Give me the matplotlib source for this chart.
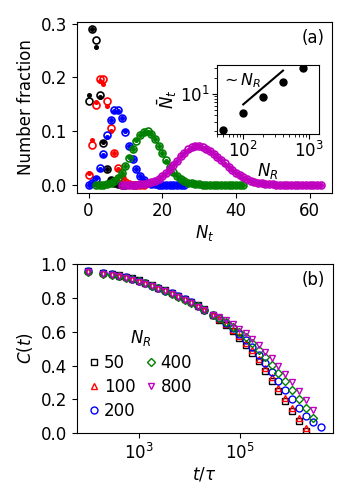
import numpy as np
import matplotlib
matplotlib.use('Agg')
import matplotlib.pyplot as plt
from matplotlib.ticker import NullLocator

plt.rcParams['font.size'] = 12

# ---- panel (a): distributions of N_t ----
nt_50 = list(range(0, 11))
open_50 = [0.156, 0.289, 0.269, 0.167, 0.078, 0.030, 0.010, 0.003, 0.001, 0.0003, 0.0001]
dot_50 = [0.167, 0.289, 0.256, 0.163, 0.080, 0.030, 0.011, 0.004, 0.001, 0.0003, 0.0001]

nt_100 = list(range(0, 16))
open_100 = [0.019, 0.074, 0.149, 0.196, 0.196, 0.156, 0.105, 0.059, 0.031, 0.013,
            0.005, 0.002, 0.0006, 0.0002, 0.0001, 0.0]
dot_100 = [0.022, 0.083, 0.155, 0.194, 0.187, 0.147, 0.100, 0.060, 0.030, 0.014,
           0.006, 0.002, 0.0007, 0.0002, 0.0001, 0.0]

nt_200 = list(range(0, 27))
open_200 = [0.0003, 0.003, 0.011, 0.031, 0.057, 0.092, 0.121, 0.139, 0.139, 0.124,
            0.099, 0.073, 0.049, 0.030, 0.017, 0.009, 0.0045, 0.002, 0.001, 0.0004,
            0.0002, 0.0001, 0.0, 0.0, 0.0, 0.0, 0.0]
dot_200 = [0.0004, 0.003, 0.012, 0.030, 0.055, 0.090, 0.120, 0.138, 0.138, 0.124,
           0.100, 0.073, 0.049, 0.030, 0.017, 0.009, 0.0045, 0.002, 0.001, 0.0004,
           0.0002, 0.0001, 0.0, 0.0, 0.0, 0.0, 0.0]

nt_400 = list(range(2, 43))
open_400 = [0.0001, 0.0002, 0.0005, 0.0012, 0.003, 0.0065, 0.013, 0.022, 0.035, 0.050,
            0.066, 0.081, 0.092, 0.099, 0.100, 0.095, 0.086, 0.073, 0.060, 0.046,
            0.034, 0.024, 0.016, 0.011, 0.007, 0.0045, 0.0028, 0.0017, 0.001, 0.0006,
            0.0004, 0.0002, 0.0001, 0.0, 0.0, 0.0, 0.0, 0.0, 0.0, 0.0, 0.0]
dot_400 = [0.0001, 0.0002, 0.0006, 0.0013, 0.0032, 0.007, 0.014, 0.023, 0.036, 0.051,
           0.067, 0.083, 0.093, 0.098, 0.099, 0.094, 0.085, 0.072, 0.059, 0.045,
           0.033, 0.023, 0.016, 0.011, 0.007, 0.0045, 0.0028, 0.0017, 0.001, 0.0006,
           0.0004, 0.0002, 0.0001, 0.0, 0.0, 0.0, 0.0, 0.0, 0.0, 0.0, 0.0]

nt_800 = list(range(9, 64))
open_800 = [0.0, 0.0001, 0.0002, 0.0003, 0.0006, 0.001, 0.0018, 0.003, 0.005, 0.0075,
            0.011, 0.016, 0.022, 0.029, 0.037, 0.045, 0.053, 0.060, 0.066, 0.070,
            0.072, 0.072, 0.070, 0.067, 0.063, 0.058, 0.052, 0.046, 0.040, 0.034,
            0.028, 0.023, 0.018, 0.014, 0.0105, 0.008, 0.006, 0.0043, 0.003, 0.0021,
            0.0015, 0.001, 0.0007, 0.0005, 0.0003, 0.0002, 0.0001, 0.0, 0.0, 0.0,
            0.0, 0.0, 0.0, 0.0, 0.0]
dot_800 = [0.0, 0.0001, 0.0002, 0.0003, 0.0006, 0.001, 0.0019, 0.0032, 0.0052, 0.0078,
           0.0115, 0.0165, 0.0225, 0.0295, 0.037, 0.045, 0.053, 0.0595, 0.0655, 0.0695,
           0.0715, 0.0715, 0.0695, 0.0665, 0.0625, 0.0575, 0.0515, 0.0455, 0.0395, 0.0335,
           0.0275, 0.0225, 0.0178, 0.0138, 0.0104, 0.0079, 0.0059, 0.0043, 0.003, 0.0021,
           0.0015, 0.001, 0.0007, 0.0005, 0.0003, 0.0002, 0.0001, 0.0, 0.0, 0.0,
           0.0, 0.0, 0.0, 0.0, 0.0]

# inset: mean N_t vs N_R
inset_nr = [50, 100, 200, 400, 800]
inset_nbar = [2.06, 4.27, 8.5, 16.5, 30.7]
guide_nr = [100, 400]
guide_nbar = [6.3, 27.0]

# ---- panel (b): correlation function ----
t_tau = [1e2, 2e2, 3e2, 4e2, 5.5e2, 7.4e2, 1.0e3, 1.35e3, 1.82e3, 2.45e3, 3.31e3,
         4.47e3, 6.03e3, 8.13e3, 1.096e4, 1.479e4, 1.995e4, 2.951e4, 3.981e4,
         5.37e4, 7.244e4, 9.772e4, 1.318e5, 1.778e5, 2.399e5, 3.236e5, 4.365e5,
         5.888e5, 7.943e5, 1.0715e6, 1.479e6, 2.042e6, 2.884e6, 4.074e6]
c_50 = [0.960, 0.948, 0.941, 0.934, 0.925, 0.915, 0.903, 0.890, 0.876, 0.861, 0.846,
        0.830, 0.813, 0.795, 0.776, 0.755, 0.733,
        0.700, 0.670, 0.640, 0.605, 0.565, 0.520, 0.475, 0.425, 0.370, 0.310,
        0.250, 0.190, 0.130, 0.070, 0.015]
c_100 = [0.958, 0.946, 0.939, 0.932, 0.923, 0.913, 0.901, 0.888, 0.874, 0.859, 0.844,
         0.828, 0.811, 0.793, 0.774, 0.753, 0.731,
         0.700, 0.675, 0.645, 0.612, 0.575, 0.535, 0.490, 0.440, 0.385, 0.330,
         0.270, 0.210, 0.150, 0.090, 0.030]
c_200 = [0.957, 0.945, 0.938, 0.931, 0.922, 0.912, 0.900, 0.887, 0.873, 0.858, 0.843,
         0.827, 0.810, 0.792, 0.773, 0.752, 0.730,
         0.700, 0.680, 0.652, 0.620, 0.587, 0.550, 0.510, 0.465, 0.415, 0.363,
         0.310, 0.255, 0.200, 0.150, 0.105, 0.065, 0.035]
c_400 = [0.955, 0.943, 0.936, 0.929, 0.920, 0.910, 0.898, 0.885, 0.871, 0.856, 0.841,
         0.825, 0.808, 0.790, 0.771, 0.750, 0.728,
         0.700, 0.682, 0.658, 0.630, 0.600, 0.567, 0.532, 0.493, 0.450, 0.405,
         0.357, 0.308, 0.257, 0.205, 0.150, 0.088]
c_800 = [0.953, 0.941, 0.934, 0.927, 0.918, 0.908, 0.896, 0.883, 0.869, 0.854, 0.839,
         0.823, 0.806, 0.788, 0.769, 0.748, 0.727,
         0.700, 0.688, 0.668, 0.645, 0.618, 0.590, 0.557, 0.522, 0.483, 0.442,
         0.398, 0.352, 0.303, 0.252, 0.198, 0.138]

colors = ['k', 'r', 'b', 'g', 'm']
labels = ['50', '100', '200', '400', '800']

fig = plt.figure(figsize=(3.5, 5), dpi=100)

# panel (a)
ax1 = fig.add_axes([0.22, 0.6146, 0.729, 0.342])
dists = [(nt_50, open_50, dot_50), (nt_100, open_100, dot_100),
         (nt_200, open_200, dot_200), (nt_400, open_400, dot_400),
         (nt_800, open_800, dot_800)]
for (nt, op, dt), c in zip(dists, colors):
    ax1.plot(nt, op, 'o', ms=5, mfc='none', mec=c, mew=1.2)
    ax1.plot(nt, dt, 'o', ms=2.6, color=c)
ax1.set_xlabel(r'$N_t$', labelpad=2)
ax1.set_ylabel('Number fraction')
ax1.set_xticks([0, 20, 40, 60])
ax1.set_yticks([0.0, 0.1, 0.2, 0.3])
ax1.text(0.97, 0.96, '(a)', transform=ax1.transAxes, ha='right', va='top')

ins = fig.add_axes([0.620, 0.733, 0.291, 0.138])
ins.loglog(inset_nr, inset_nbar, 'ko', ms=5)
ins.loglog(guide_nr, guide_nbar, 'k-', lw=1.5)
ins.set_xlim(40, 1400)
ins.tick_params(which='both', pad=1.5)
ins.set_xlabel(r'$N_R$', labelpad=0)
ins.set_ylabel(r'$\bar{N}_t$', labelpad=1)
ins.text(0.04, 0.76, r'$\sim N_R$', transform=ins.transAxes, ha='left', va='center',
         fontsize=11.5)

# panel (b)
ax2 = fig.add_axes([0.219, 0.1334, 0.731, 0.3386])
markers = ['s', '^', 'o', 'D', 'v']
msizes = [4.5, 4.5, 5, 4.2, 5]
series = [c_50, c_100, c_200, c_400, c_800]
for cv, c, mk, ms, lb in zip(series, colors, markers, msizes, labels):
    ax2.semilogx(t_tau[:len(cv)], cv, mk, ms=ms, mfc='none', mec=c, mew=1.0, label=lb)
ax2.set_ylim(0, 1)
ax2.set_xticks([1e3, 1e5])
ax2.xaxis.set_minor_locator(NullLocator())
ax2.set_xlabel(r'$t/\tau$', labelpad=2)
ax2.set_ylabel(r'$C(t)$')
ax2.text(0.97, 0.96, '(b)', transform=ax2.transAxes, ha='right', va='top')
ax2.legend(ncol=2, title=r'$N_R$', frameon=False, loc='center left',
           bbox_to_anchor=(-0.01, 0.35), handlelength=0.6, handletextpad=0.3,
           columnspacing=0.6, labelspacing=0.35, fontsize=12, title_fontsize=12)

fig.savefig('out.png', dpi=100)
